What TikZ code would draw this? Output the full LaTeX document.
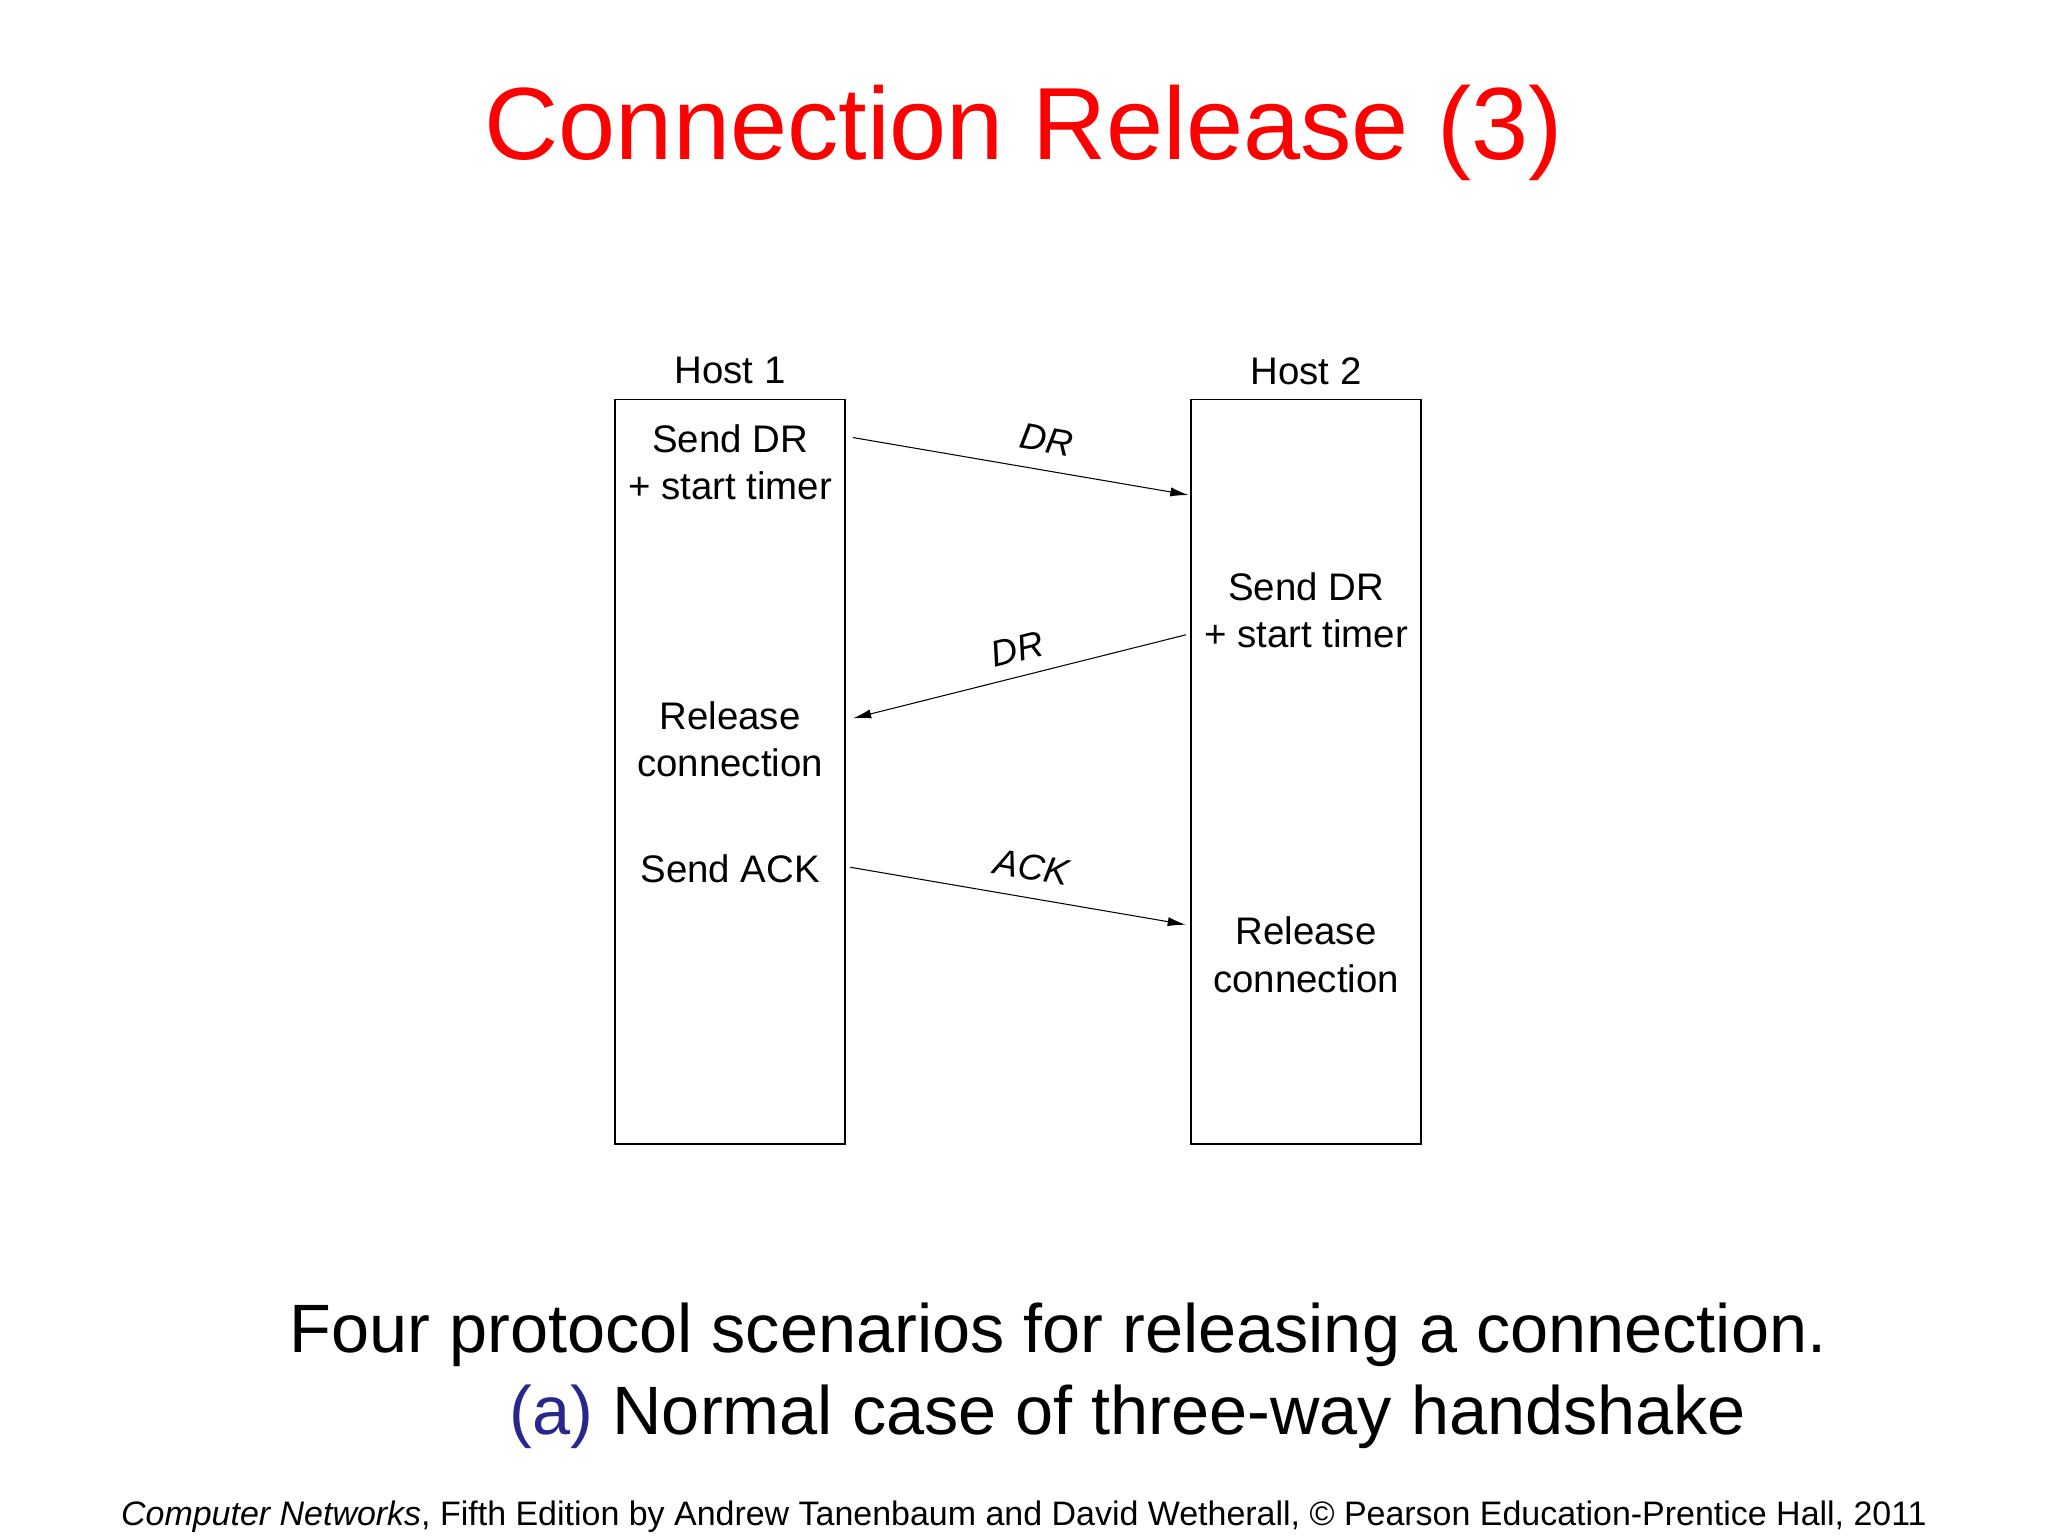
\documentclass[tikz,border=0pt]{standalone}
\usepackage{fontspec}
\setmainfont{Liberation Sans}
\usetikzlibrary{arrows.meta}
\begin{document}
\begin{tikzpicture}[x=0.5pt,y=-0.5pt,
  host/.style={draw,line width=0.6pt},
  lbl/.style={font=\fontsize{14.7}{17}\selectfont,align=center,inner sep=0},
  msg/.style={line width=0.4pt,-{Latex[length=7pt,width=3.5pt]}},
  mlbl/.style={font=\fontsize{14}{16}\selectfont\itshape,inner sep=0}]
\useasboundingbox (0,0) rectangle (1568,1176);
\node[text=red,font=\fontsize{39.3}{46}\selectfont] (title) at (784,102) {Connection Release (3)};
\draw[host] (471,306) rectangle (647,876);
\draw[host] (912,306) rectangle (1088,876);
\node[lbl] (h1) at (559,284) {Host 1};
\node[lbl] (h2) at (1000,284) {Host 2};
\node[lbl] (a1) at (559,354) {Send DR\\[1pt] + start timer};
\node[lbl] (a2) at (559,566) {Release\\[1pt] connection};
\node[lbl] (a3) at (559,665) {Send ACK};
\node[lbl] (b1) at (1000,467) {Send DR\\[1pt] + start timer};
\node[lbl] (b2) at (1000,731) {Release\\[1pt] connection};
\coordinate (p1) at (653,335); \coordinate (q1) at (910,379);
\coordinate (p2) at (908,486); \coordinate (q2) at (653,550);
\coordinate (p3) at (651,664); \coordinate (q3) at (908,708);
\draw[msg] (p1) -- (q1);
\draw[msg] (p2) -- (q2);
\draw[msg] (p3) -- (q3);
\node[mlbl,rotate=-10] (m1) at (801,337) {DR};
\node[mlbl,rotate=14] (m2) at (779,497) {DR};
\node[mlbl,rotate=-10] (m3) at (790,664) {ACK};
\node[font=\fontsize{26.2}{30}\selectfont] (cap1) at (810,1022) {Four protocol scenarios for releasing a connection.};
\node[font=\fontsize{26.2}{30}\selectfont,anchor=west,inner sep=0] (cap2) at (390,1085) {\textcolor[RGB]{40,40,140}{(a)} Normal case of three-way handshake};
\node[font=\fontsize{13}{15}\selectfont] (foot) at (784,1161) {\textit{Computer Networks}, Fifth Edition by Andrew Tanenbaum and David Wetherall, © Pearson Education-Prentice Hall, 2011};
\end{tikzpicture}
\end{document}
